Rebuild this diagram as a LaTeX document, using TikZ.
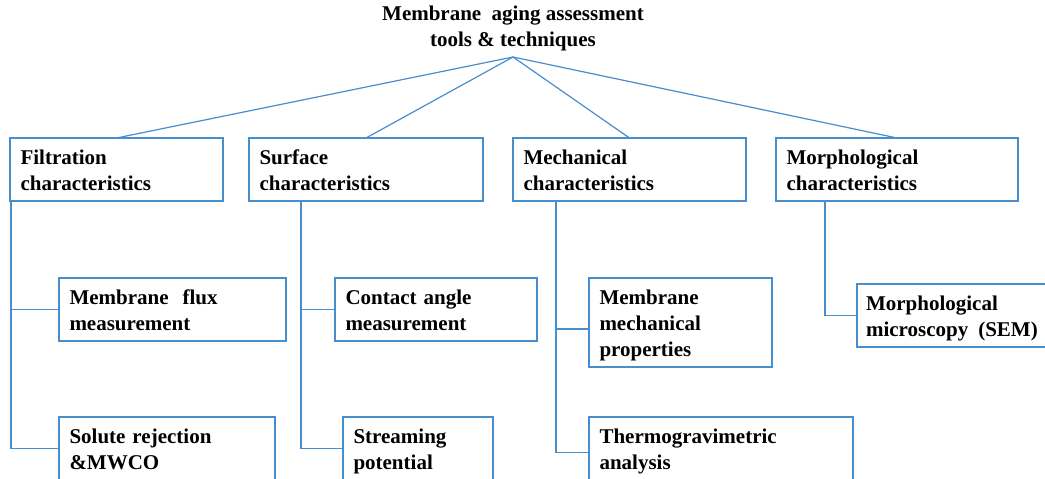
\documentclass[tikz,border=0pt]{standalone}
\usepackage{fontspec}
\setmainfont{Liberation Serif}
\usetikzlibrary{calc}
\definecolor{blueline}{RGB}{72,142,206}
\newcommand\sx{\rule[-5pt]{0pt}{25pt}}
\tikzset{
  box/.style={draw=blueline, line width=1.3pt, anchor=north west, align=left,
    inner xsep=10.5pt, inner ysep=0pt, outer sep=0pt,
    font=\fontsize{21}{26}\selectfont\bfseries},
  link/.style={draw=blueline, line width=1.2pt},
}
\begin{document}
\begin{tikzpicture}[x=1pt,y=-1pt]
\useasboundingbox (0,0) rectangle (1045,479);
\clip (0,0) rectangle (1045,479);
\fill[white] (0,0) rectangle (1045,479);
\node[align=center, anchor=north, inner sep=0pt, font=\fontsize{21}{26}\selectfont\bfseries] (title) at (513,0)
  {\sx Membrane\hspace{5pt} aging assessment\\tools \& techniques};
\coordinate (apex) at (513,57);
% level 1
\node[box, text width=192pt, minimum height=63pt] (filt) at (10,138) {\sx Filtration\\characteristics\sx};
\node[box, text width=213pt, minimum height=63pt] (surf) at (249,138) {\sx Surface\\characteristics\sx};
\node[box, text width=212pt, minimum height=63pt] (mech) at (513,138) {\sx Mechanical\\characteristics\sx};
\node[box, text width=221pt, minimum height=63pt] (morph) at (776,138) {\sx Morphological\\characteristics\sx};
% level 2
\node[box, text width=206pt, minimum height=63pt] (flux) at (59,278) {\sx Membrane\hspace{7pt} flux\\measurement\sx};
\node[box, text width=195pt, minimum height=63pt] (sol) at (59,417) {\sx Solute rejection\\\&MWCO\sx};
\node[box, text width=181pt, minimum height=63pt] (cont) at (335,278) {\sx Contact angle\\measurement\sx};
\node[box, text width=129pt, minimum height=63pt] (stream) at (343,417) {\sx Streaming\\potential\sx};
\node[box, text width=162pt, minimum height=89pt] (props) at (589,278) {\sx Membrane\\mechanical\\properties\sx};
\node[box, text width=243pt, minimum height=63pt] (thermo) at (589,417) {\sx Thermogravimetric\\analysis\sx};
\node[box, text width=179pt, minimum height=63pt, inner xsep=9pt] (micro) at (857,284) {\sx Morphological\\microscopy\hspace{3pt} (SEM)\sx};
% connectors
\draw[link] (apex) -- (filt.north);
\draw[link] (apex) -- (surf.north);
\draw[link] (apex) -- (mech.north);
\draw[link] (apex) -- (morph.north);
\draw[link] ($(filt.south west)+(1,0)$) |- (sol.west);
\draw[link] ($(filt.south west)+(1,0)$) |- (flux.west);
\draw[link] ($(surf.south west)+(52,0)$) |- (stream.west);
\draw[link] ($(surf.south west)+(52,0)$) |- (cont.west);
\draw[link] ($(mech.south west)+(43,0)$) |- ($(thermo.west)+(0,4)$);
\draw[link] ($(mech.south west)+(43,0)$) |- ($(props.west)+(0,6.5)$);
\draw[link] ($(morph.south west)+(49,0)$) |- (micro.west);
\end{tikzpicture}
\end{document}
